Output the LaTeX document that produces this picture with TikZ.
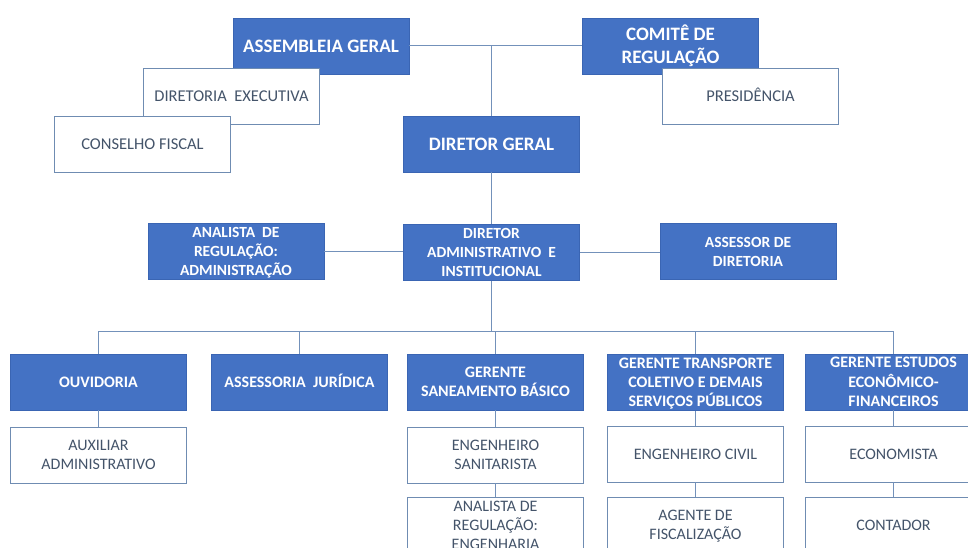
\documentclass[tikz,border=0pt]{standalone}
\usepackage{fontspec}
\setmainfont{Carlito}
\definecolor{boxblue}{HTML}{4472C4}
\definecolor{blueedge}{HTML}{3A65B3}
\definecolor{whiteedge}{HTML}{6F8CB2}
\definecolor{graytext}{HTML}{44546A}
\definecolor{linecol}{HTML}{7391BA}
\begin{document}
\begin{tikzpicture}[x=1pt,y=-1pt,
  bluebox/.style={draw=blueedge, fill=boxblue, text=white, align=center, minimum width=176pt, minimum height=56pt, inner sep=0pt, line width=0.8pt, text depth=0pt},
  whitebox/.style={draw=whiteedge, fill=white, text=graytext, align=center, minimum width=176pt, minimum height=56pt, inner sep=0pt, line width=0.8pt, text depth=0pt},
  bigtxt/.style={font=\fontsize{19}{23}\selectfont\bfseries, text height=12.3pt},
  topw/.style={font=\fontsize{16.5}{20}\selectfont, text height=10.6pt},
  midtxt/.style={font=\fontsize{15.5}{19}\selectfont\bfseries, text height=10pt},
  rowthree/.style={font=\fontsize{16}{19.3}\selectfont\bfseries, text height=10.3pt},
  rowfour/.style={font=\fontsize{16}{19}\selectfont, text height=10.3pt},
  link/.style={draw=linecol, line width=1pt}]
\path[use as bounding box, clip] (0,0) rectangle (968,548);
\fill[white] (0,0) rectangle (968,548);
% top
\node[bluebox,bigtxt] (ag) at (321,46) {ASSEMBLEIA GERAL};
\node[whitebox,topw] (de) at (231.5,96) {DIRETORIA\ \ EXECUTIVA};
\node[whitebox,topw] (cf) at (142.5,144) {CONSELHO FISCAL};
\node[bluebox,bigtxt,text height=35.3pt] (cr) at (670.5,46) {COMITÊ DE\\REGULAÇÃO};
\node[whitebox,topw] (pr) at (750.5,96) {PRESIDÊNCIA};
\node[bluebox,bigtxt] (dg) at (491.5,144) {DIRETOR GERAL};
% row 2
\node[bluebox,midtxt,text height=48pt] (ar) at (236,251) {ANALISTA\ \ DE\\REGULAÇÃO:\\ADMINISTRAÇÃO};
\node[bluebox,midtxt,text height=48pt] (da) at (491.5,252.5) {DIRETOR\\ADMINISTRATIVO\ \ E\\INSTITUCIONAL};
\node[bluebox,midtxt,text height=29pt] (as) at (748,251.5) {ASSESSOR DE\\DIRETORIA};
% row 3
\node[bluebox,rowthree] (ou) at (98.5,382) {OUVIDORIA};
\node[bluebox,rowthree] (aj) at (299.5,382.5) {ASSESSORIA\ \ JURÍDICA};
\node[bluebox,rowthree,text height=29.6pt] (gs) at (495.5,382) {GERENTE\\SANEAMENTO BÁSICO};
\node[bluebox,rowthree,text height=48.9pt] (gt) at (695.5,382.5) {GERENTE TRANSPORTE\\COLETIVO E DEMAIS\\SERVIÇOS PÚBLICOS};
\node[bluebox,rowthree,text height=48.9pt] (ge) at (893.5,382) {GERENTE ESTUDOS\\ECONÔMICO-\\FINANCEIROS};
% row 4
\node[whitebox,rowfour,text height=29.3pt] (ax) at (98.5,455) {AUXILIAR\\ADMINISTRATIVO};
\node[whitebox,rowfour,text height=29.3pt] (es) at (495.5,455) {ENGENHEIRO\\SANITARISTA};
\node[whitebox,rowfour] (ec) at (695.5,454) {ENGENHEIRO CIVIL};
\node[whitebox,rowfour] (eco) at (893.5,454) {ECONOMISTA};
% row 5
\node[whitebox,rowfour,text height=48.3pt] (ae) at (495.5,525) {ANALISTA DE\\REGULAÇÃO:\\ENGENHARIA};
\node[whitebox,rowfour,text height=29.3pt] (af) at (695.5,525) {AGENTE DE\\FISCALIZAÇÃO};
\node[whitebox,rowfour] (ct) at (893.5,525) {CONTADOR};
% connectors
\coordinate (bus) at (491.5,331.5);
\draw[link] (ag.east) -- (cr.west);
\draw[link] (dg.north |- ag.east) -- (dg.north);
\draw[link] (dg.south) -- (da.north);
\draw[link] (ar.east) -- (ar.east -| da.west);
\draw[link] (da.east) -- (da.east -| as.west);
\draw[link] (da.south) -- (da.south |- bus);
\draw[link] (ou.north) |- (ge.north |- bus) -- (ge.north);
\draw[link] (aj.north) -- (aj.north |- bus);
\draw[link] (gs.north) -- (gs.north |- bus);
\draw[link] (gt.north) -- (gt.north |- bus);
\draw[link] (ou) -- (ax);
\draw[link] (gs) -- (es);
\draw[link] (es) -- (ae);
\draw[link] (gt) -- (ec);
\draw[link] (ec) -- (af);
\draw[link] (ge) -- (eco);
\draw[link] (eco) -- (ct);
\end{tikzpicture}
\end{document}
